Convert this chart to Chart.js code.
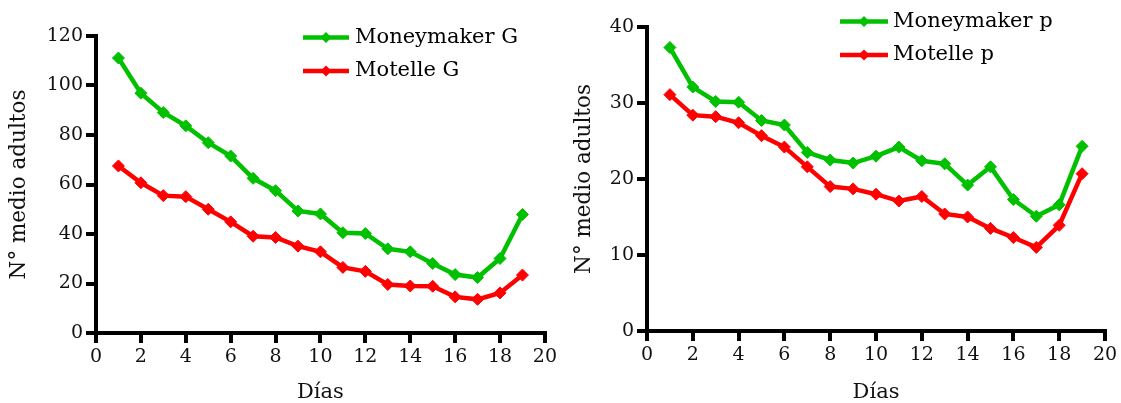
<!DOCTYPE html>
<html>
<head>
<meta charset="utf-8">
<script src="https://cdn.jsdelivr.net/npm/chart.js@4/dist/chart.umd.min.js"></script>
<style>
  html, body { margin: 0; padding: 0; background: #fff; }
  #wrap { position: relative; width: 1121px; height: 403px; overflow: hidden; }
  .panel { position: absolute; top: 0; height: 403px; }
  #p1 { left: 0; width: 560px; }
  #p2 { left: 560px; width: 561px; }
</style>
</head>
<body>
<div id="wrap">
  <div class="panel" id="p1"><canvas id="c1" width="560" height="403"></canvas></div>
  <div class="panel" id="p2"><canvas id="c2" width="561" height="403"></canvas></div>
</div>
<script>
// Days of observation
const dias = [1, 2, 3, 4, 5, 6, 7, 8, 9, 10, 11, 12, 13, 14, 15, 16, 17, 18, 19];

// Mean number of adults, G
const moneymakerG = [111.1, 96.9, 89.1, 83.7, 76.9, 71.5, 62.5, 57.5, 49.3, 48.1, 40.5, 40.2, 34.0, 32.8, 28.1, 23.6, 22.4, 30.1, 47.9];
const motelleG    = [67.5, 60.7, 55.5, 55.1, 50.0, 44.9, 39.1, 38.6, 35.1, 32.8, 26.5, 24.9, 19.6, 19.0, 18.9, 14.6, 13.6, 16.2, 23.4];

// Mean number of adults, p
const moneymakerP = [37.3, 32.1, 30.2, 30.1, 27.7, 27.1, 23.5, 22.5, 22.1, 23.0, 24.2, 22.4, 22.0, 19.2, 21.6, 17.3, 15.1, 16.6, 24.3];
const motelleP    = [31.1, 28.4, 28.2, 27.4, 25.7, 24.2, 21.6, 19.0, 18.7, 18.0, 17.1, 17.7, 15.4, 15.0, 13.5, 12.3, 11.0, 13.9, 20.7];

// Axis ranges and labels
const xTicks = { min: 0, max: 20, step: 2 };
const yTicksG = { min: 0, max: 120, step: 20 };
const yTicksP = { min: 0, max: 40, step: 10 };
const xTitle = 'Días';
const yTitle = 'N° medio adultos';

const GREEN = 'rgb(0,192,0)';
const RED = 'rgb(255,0,0)';
const FONT = '"DejaVu Serif", serif';

function toPoints(values) {
  return values.map((v, i) => ({ x: dias[i], y: v }));
}

function series(label, values, color) {
  return {
    label: label,
    data: toPoints(values),
    borderColor: color,
    backgroundColor: color,
    borderWidth: 4.5,
    pointStyle: 'rectRot',
    pointRadius: 6,
    pointBorderWidth: 1,
    pointBorderColor: color,
    pointBackgroundColor: color,
    tension: 0,
    fill: false
  };
}

// Legend: short line with a diamond, then the series name
const lineLegend = {
  id: 'lineLegend',
  afterDraw(chart, args, opts) {
    const ctx = chart.ctx;
    ctx.save();
    chart.data.datasets.forEach((ds, i) => {
      const y = opts.y + i * opts.gap;
      ctx.strokeStyle = ds.borderColor;
      ctx.lineWidth = 4.5;
      ctx.beginPath();
      ctx.moveTo(opts.x, y);
      ctx.lineTo(opts.x + opts.len, y);
      ctx.stroke();
      const cx = opts.x + opts.len / 2, r = 5.5;
      ctx.fillStyle = ds.borderColor;
      ctx.beginPath();
      ctx.moveTo(cx, y - r);
      ctx.lineTo(cx + r, y);
      ctx.lineTo(cx, y + r);
      ctx.lineTo(cx - r, y);
      ctx.closePath();
      ctx.fill();
      ctx.fillStyle = '#000';
      ctx.font = opts.font;
      ctx.textBaseline = 'middle';
      ctx.textAlign = 'left';
      ctx.fillText(ds.label, opts.x + opts.len + opts.textGap, y);
    });
    ctx.restore();
  }
};

function makeChart(canvasId, datasets, yr, box, legend) {
  return new Chart(document.getElementById(canvasId), {
    type: 'line',
    data: { datasets: datasets },
    plugins: [lineLegend],
    options: {
      responsive: false,
      animation: false,
      events: [],
      layout: { padding: { left: 0, top: box.top, right: box.right, bottom: 0 } },
      plugins: {
        legend: { display: false },
        tooltip: { enabled: false },
        lineLegend: legend
      },
      scales: {
        x: {
          type: 'linear',
          min: xTicks.min,
          max: xTicks.max,
          afterFit(scale) { scale.height = box.xHeight; },
          border: { display: true, color: '#000', width: 4 },
          grid: { drawOnChartArea: false, drawTicks: true, tickLength: 10, lineWidth: 4, color: '#000' },
          ticks: { stepSize: xTicks.step, padding: 3, color: '#111', font: { family: FONT, size: 19 } },
          title: { display: true, text: xTitle, color: '#111', font: { family: FONT, size: 21, lineHeight: 1 }, padding: { top: 0, bottom: 0 } }
        },
        y: {
          type: 'linear',
          min: yr.min,
          max: yr.max,
          afterFit(scale) { scale.width = box.yWidth; },
          border: { display: true, color: '#000', width: 4 },
          grid: { drawOnChartArea: false, drawTicks: true, tickLength: 10, lineWidth: 4, color: '#000' },
          ticks: { stepSize: yr.step, padding: 3, color: '#111', font: { family: FONT, size: 19 } },
          title: { display: true, text: yTitle, color: '#111', font: { family: FONT, size: 21.5, lineHeight: 1 }, padding: { top: box.yTitlePad, bottom: 0 } }
        }
      }
    }
  });
}

makeChart('c1',
  [series('Moneymaker G', moneymakerG, GREEN), series('Motelle G', motelleG, RED)],
  yTicksG,
  { top: 36, right: 15, xHeight: 70, yWidth: 96, yTitlePad: 9 },
  { x: 303, y: 37.5, gap: 33.5, len: 46, textGap: 6, font: '21px ' + FONT }
);

makeChart('c2',
  [series('Moneymaker p', moneymakerP, GREEN), series('Motelle p', motelleP, RED)],
  yTicksP,
  { top: 27, right: 16, xHeight: 72, yWidth: 87, yTitlePad: 14 },
  { x: 280, y: 21.5, gap: 33.5, len: 48, textGap: 5, font: '21px ' + FONT }
);
</script>
</body>
</html>
